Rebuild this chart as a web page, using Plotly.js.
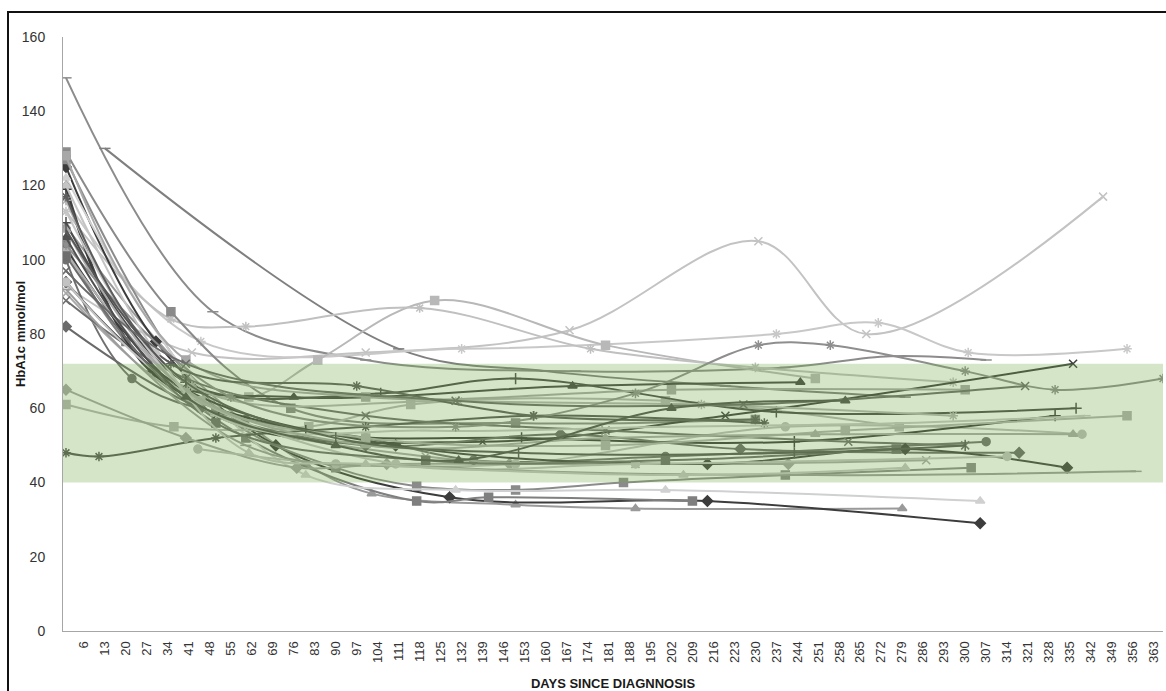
<!DOCTYPE html>
<html>
<head>
<meta charset="utf-8">
<script src="https://cdn.plot.ly/plotly-3.0.1.min.js"></script>
<style>html,body{margin:0;padding:0;background:#fff;}#chart{width:1166px;height:691px;}</style>
</head>
<body>
<div id="chart"></div>
<script>
// ---- Data: HbA1c (mmol/mol) per patient vs days since diagnosis ----
const dayTicks = [6,13,20,27,34,41,48,55,62,69,76,83,90,97,104,111,118,125,132,139,146,153,160,167,174,181,188,195,202,209,216,223,230,237,244,251,258,265,272,279,286,293,300,307,314,321,328,335,342,349,356,363];
const targetLow = 40;
const targetHigh = 72;

const p01Days = [0,49,100,170,240,275,307];           const p01Vals = [149,86,73,70,71,74,73];
const p02Days = [13,111,160,220,280];                  const p02Vals = [130,76,70,66,63];
const p03Days = [0,42,100,168,231,267,346];            const p03Vals = [93,75,75,81,105,80,117];
const p04Days = [0,45,132,237,271,301,354];            const p04Vals = [116,78,76,80,83,75,76];
const p05Days = [0,30,61,84,123,180,250];              const p05Vals = [102,70,63,73,89,77,68];
const p06Days = [0,35,60,118,175,230,296];             const p06Vals = [113,84,82,87,76,71,67];
const p07Days = [0,35,75,150,230];                     const p07Vals = [129,86,60,56,57];
const p08Days = [0,40,80,102,150,190,279];             const p08Vals = [109,70,45,37,34,33,33];
const p09Days = [0,30,70,128,214,305];                 const p09Vals = [125,78,50,36,35,29];
const p10Days = [0,20,60,117,141,209];                 const p10Vals = [104,78,52,35,36,35];
const p11Days = [0,50,90,117,150,186,240,302];         const p11Vals = [127,60,44,39,38,40,42,44];
const p12Days = [0,40,80,130,200,305];                 const p12Vals = [122,70,42,38,38,35];
const p13Days = [0,11,50,100,156,233];                 const p13Vals = [48,47,52,55,58,56];
const p14Days = [0,36,81,115,200,278];                 const p14Vals = [61,55,55,61,62,55];
const p15Days = [0,40,77,107,148,241];                 const p15Vals = [65,52,44,45,45,45];
const p16Days = [0,22,60,100,136,200,307];             const p16Vals = [100,68,57,52,46,47,51];
const p17Days = [44,90,150,240,339];                   const p17Vals = [49,45,45,55,53];
const p18Days = [0,30,76,169,245];                     const p18Vals = [120,69,63,66,67];
const p19Days = [0,28,80,152,243,330];                 const p19Vals = [119,70,54,52,51,58];
const p20Days = [0,40,105,150,237,337];                const p20Vals = [110,67,64,68,59,60];
const p21Days = [0,50,139,220,336];                    const p21Vals = [103,58,51,58,72];
const p22Days = [0,45,120,190,287];                    const p22Vals = [91,60,47,45,46];
const p23Days = [0,40,100,180,261,300];                const p23Vals = [89,68,58,54,51,50];
const p24Days = [0,45,100,165,225,318];                const p24Vals = [82,60,50,53,49,48];
const p25Days = [0,40,110,214,280,334];                const p25Vals = [94,65,50,45,49,44];
const p26Days = [0,40,110,190,314];                    const p26Vals = [94,64,45,45,47];
const p27Days = [0,60,130,250,357];                    const p27Vals = [92,50,44,42,43];
const p28Days = [0,45,100,180,260,354];                const p28Vals = [102,62,52,50,54,58];
const p29Days = [0,50,120,200,280,340];                const p29Vals = [113,58,54,55,56,58];
const p30Days = [0,42,131,212,296];                    const p30Vals = [116,66,62,61,58];
const p31Days = [0,40,100,180,250,336];                const p31Vals = [108,65,50,52,53,53];
const p32Days = [0,50,120,200,277];                    const p32Vals = [101,56,46,46,49];
const p33Days = [0,40,100,202,300];                    const p33Vals = [128,73,63,65,65];
const p34Days = [0,55,130,190,231,255,300,330,366];    const p34Vals = [104,63,55,64,77,77,70,65,68];
const p35Days = [0,35,97,156,230];                     const p35Vals = [117,72,66,58,57];
const p36Days = [0,30,61,100,206,280];                 const p36Vals = [120,75,48,45,42,44];
const p37Days = [0,40,90,151,243,300];                 const p37Vals = [108,67,52,48,48,50];
const p38Days = [0,40,130,226,320];                    const p38Vals = [97,72,62,61,66];
const p39Days = [0,40,90,131,202,260];                 const p39Vals = [106,63,50,46,60,62];

const seriesDays = [p01Days,p02Days,p03Days,p04Days,p05Days,p06Days,p07Days,p08Days,p09Days,p10Days,p11Days,p12Days,p13Days,p14Days,p15Days,p16Days,p17Days,p18Days,p19Days,p20Days,p21Days,p22Days,p23Days,p24Days,p25Days,p26Days,p27Days,p28Days,p29Days,p30Days,p31Days,p32Days,p33Days,p34Days,p35Days,p36Days,p37Days,p38Days,p39Days];
const seriesVals = [p01Vals,p02Vals,p03Vals,p04Vals,p05Vals,p06Vals,p07Vals,p08Vals,p09Vals,p10Vals,p11Vals,p12Vals,p13Vals,p14Vals,p15Vals,p16Vals,p17Vals,p18Vals,p19Vals,p20Vals,p21Vals,p22Vals,p23Vals,p24Vals,p25Vals,p26Vals,p27Vals,p28Vals,p29Vals,p30Vals,p31Vals,p32Vals,p33Vals,p34Vals,p35Vals,p36Vals,p37Vals,p38Vals,p39Vals];

// ---- Styles (separate from data) ----
const seriesColors = ['#8c8c8c','#7f7f7f','#c3c3c3','#c8c8c8','#b8b8b8','#c0c0c0','#8a8a8a','#9a9a9a','#3c3c3c','#7f7f7f',
  '#8b8b8b','#d0d0d0','#555555','#b5b5b5','#a5a5a5','#707070','#bcbcbc','#454545','#3a3a3a','#4a4a4a',
  '#3e3e3e','#a8a8a8','#6e6e6e','#6a6a6a','#434343','#c2c2c2','#9c9c9c','#b0b0b0','#c6c6c6','#b4b4b4',
  '#a9a9a9','#6d6d6d','#a8a8a8','#8e8e8e','#5c5c5c','#c4c4c4','#555555','#6a6a6a','#4f4f4f'];
const seriesSymbols = ['line-ew-open','line-ew-open','x-thin-open','asterisk-open','square','asterisk-open','square','triangle-up','diamond','square',
  'square','triangle-up','asterisk-open','square','diamond','circle','circle','triangle-up','cross-thin-open','cross-thin-open',
  'x-thin-open','x-thin-open','x-thin-open','diamond','diamond','circle','line-ew-open','square','line-ew-open','asterisk-open',
  'triangle-up','square','square','asterisk-open','asterisk-open','triangle-up','line-ns-open','x-thin-open','triangle-up'];

const traces = seriesDays.map((d, i) => ({
  type: 'scatter', mode: 'lines+markers', x: d, y: seriesVals[i],
  line: {shape: 'spline', smoothing: 1, width: 2, color: seriesColors[i]},
  marker: {symbol: seriesSymbols[i], size: 8, color: seriesColors[i], line: {color: seriesColors[i], width: 1.5}},
  hoverinfo: 'x+y'
}));

const font = 'Liberation Sans, Arial, sans-serif';
const layout = {
  width: 1166, height: 691,
  margin: {l: 63, r: 3, t: 37, b: 60},
  paper_bgcolor: '#ffffff', plot_bgcolor: '#ffffff',
  showlegend: false,
  xaxis: {
    range: [-1, 366], tickmode: 'array', tickvals: dayTicks, tickangle: -90,
    showline: true, linecolor: '#a6a6a6', linewidth: 1, showgrid: false, zeroline: false, ticks: '',
    ticklabelstandoff: 4,
    tickfont: {family: font, size: 13, color: '#333333'},
    title: {text: '<b>DAYS SINCE DIAGNNOSIS</b>', font: {family: font, size: 13, color: '#1a1a1a'}, standoff: 16}
  },
  yaxis: {
    range: [0, 160], tickvals: [0,20,40,60,80,100,120,140,160],
    showline: true, linecolor: '#a6a6a6', linewidth: 1, showgrid: false, zeroline: false, ticks: '',
    ticklabelstandoff: 14,
    tickfont: {family: font, size: 14, color: '#333333'}
  },
  annotations: [
    {text: '<b>HbA1c mmol/mol</b>', xref: 'paper', yref: 'paper', x: -0.039, y: 0.5,
     xanchor: 'center', yanchor: 'middle', textangle: -90, showarrow: false,
     font: {family: font, size: 13, color: '#1a1a1a'}}
  ],
  shapes: [
    {type: 'rect', xref: 'paper', yref: 'y', x0: 0, x1: 1, y0: targetLow, y1: targetHigh,
     fillcolor: 'rgba(112,173,71,0.30)', line: {width: 0}, layer: 'above'},
    {type: 'rect', xref: 'paper', yref: 'paper', x0: -0.05, x1: 1.01, y0: -0.12, y1: 1.042,
     fillcolor: 'rgba(0,0,0,0)', line: {color: '#111111', width: 2}, layer: 'above'}
  ]
};

Plotly.newPlot('chart', traces, layout, {displayModeBar: false, staticPlot: true});
</script>
</body>
</html>
